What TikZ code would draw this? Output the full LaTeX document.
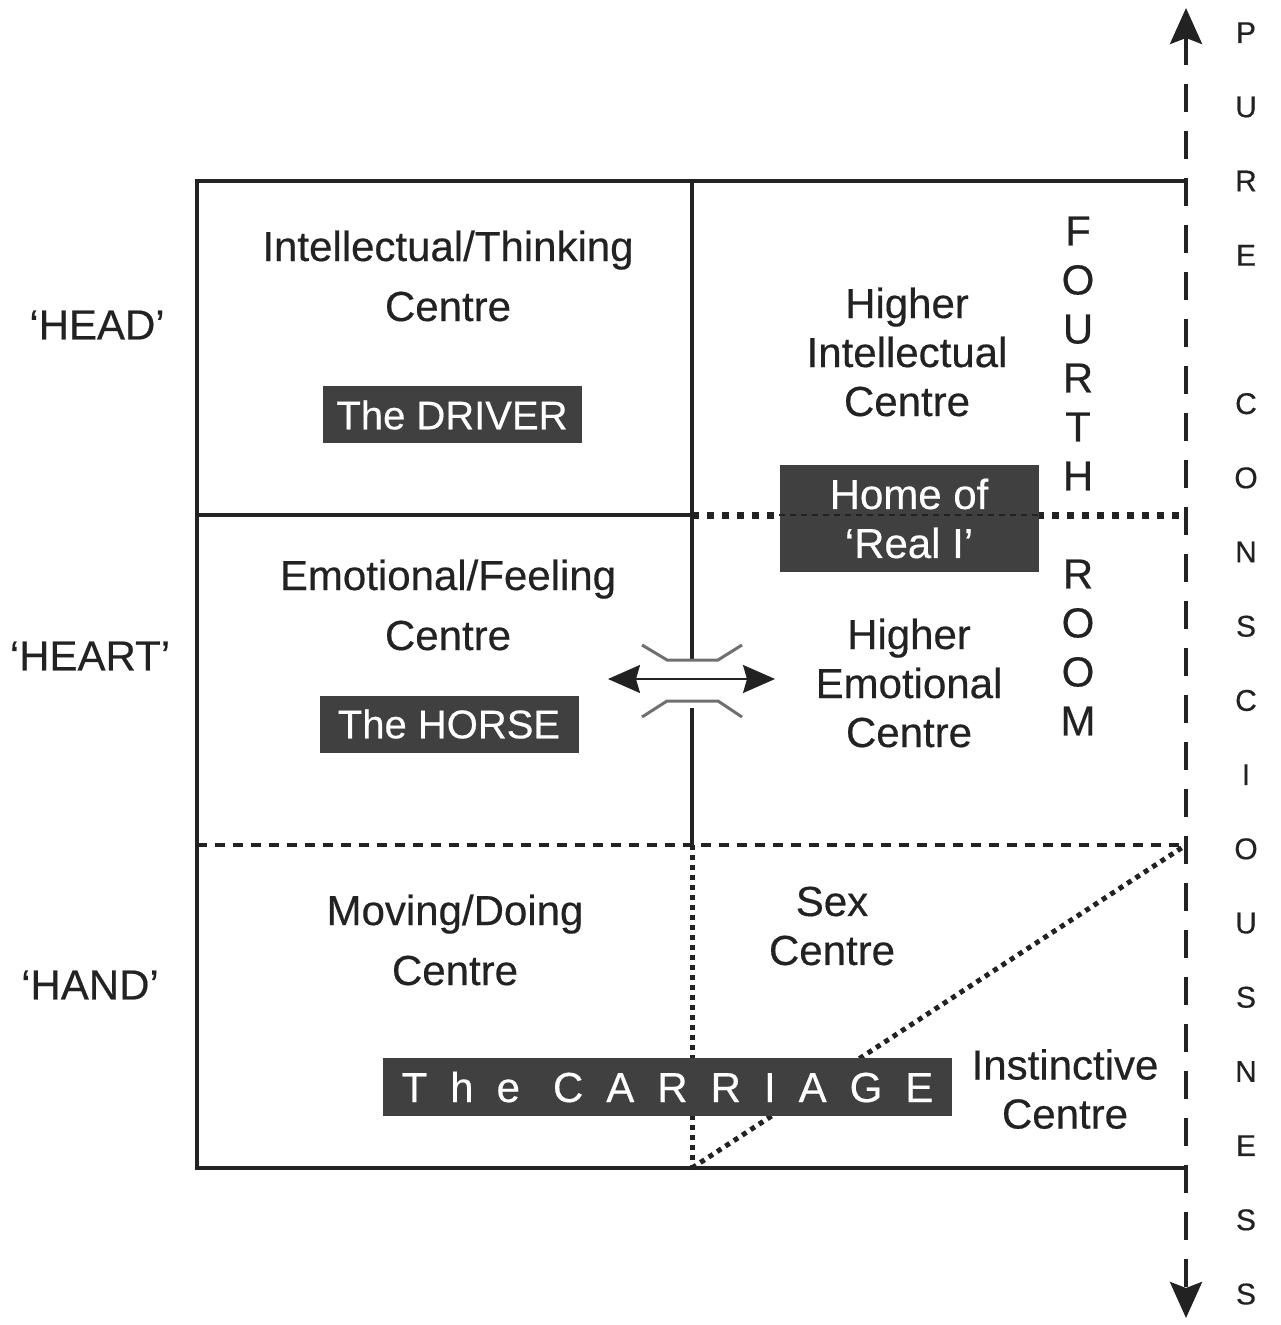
\documentclass[tikz,border=0pt]{standalone}
\usepackage{fontspec}
\setmainfont{Liberation Sans}[FakeBold=0.4]
\usetikzlibrary{arrows.meta}
\definecolor{ink}{HTML}{222222}
\definecolor{boxfill}{HTML}{404040}
\definecolor{bracketgrey}{HTML}{707070}
\newcommand{\lsp}{\hspace{11.5pt}}

\begin{document}
\begin{tikzpicture}[x=0.5pt,y=-0.5pt,
    every node/.style={inner sep=0pt,text=ink},
    centre/.style={align=center,font=\fontsize{21}{30}\selectfont},
    higher/.style={align=center,font=\fontsize{21}{24.5}\selectfont},
    sidelabel/.style={font=\fontsize{21}{25}\selectfont},
    namebox/.style={fill=boxfill,text=white,minimum width=129.5pt,minimum height=28.5pt,font=\fontsize{20}{24.5}\selectfont},
    wall/.style={draw=ink,line width=2pt},
    floorline/.style={draw=ink,line width=2pt,dash pattern=on 5pt off 4pt},
    roomline/.style={draw=ink,line width=3.5pt,dash pattern=on 3.5pt off 4pt},
    lowline/.style={draw=ink,line width=2.5pt,dash pattern=on 2.5pt off 2.5pt},
    consc/.style={draw=ink,line width=2pt,dash pattern=on 14pt off 9.5pt,
      {Stealth[length=18pt,width=16pt,inset=3pt]}-{Stealth[length=18pt,width=16pt,inset=3pt]}},
    link/.style={draw=ink,line width=1pt,
      {Stealth[length=16pt,width=14pt,inset=2pt]}-{Stealth[length=16pt,width=14pt,inset=2pt]}},
    bracket/.style={draw=bracketgrey,line width=1.5pt}]
  \useasboundingbox (0,0) rectangle (1280,1325);

  % grid of the rooms
  \coordinate (tl) at (197,181);
  \coordinate (tm) at (692,181);
  \coordinate (tr) at (1186,181);
  \coordinate (ml) at (197,515);
  \coordinate (mm) at (692,515);
  \coordinate (mr) at (1186,515);
  \coordinate (ll) at (197,845);
  \coordinate (lm) at (692,845);
  \coordinate (lr) at (1186,845);
  \coordinate (bl) at (197,1168);
  \coordinate (bm) at (692,1168);
  \coordinate (br) at (1186,1168);
  \coordinate (gaptop) at (692,660);
  \coordinate (gapbot) at (692,708);
  \coordinate (ctop) at (1186,8);
  \coordinate (cbot) at (1186,1318);
  \coordinate (larr) at (608,679);
  \coordinate (rarr) at (775,679);

  \draw[wall] (tr) -- (tl) -- (bl) -- (br);
  \draw[wall] (tm) -- (gaptop);
  \draw[wall] (gapbot) -- (lm);
  \draw[wall] (ml) -- (mm);
  \draw[roomline] (mm) -- (mr);
  \draw[floorline] (ll) -- (lr);
  \draw[lowline] (lm) -- (bm);
  \draw[lowline] (bm) -- (lr);
  \draw[consc] (ctop) -- (cbot);

  % the gate between the emotional centres
  \draw[bracket] (642,645) -- (667,660) -- (718,660) -- (742,645);
  \draw[bracket] (642,717) -- (667,701) -- (718,701) -- (742,717);
  \draw[link] (larr) -- (rarr);

  % centres
  \node[centre] (think) at (448,276) {Intellectual/Thinking\\Centre};
  \node[namebox] (driver) at (452,415) {The DRIVER};
  \node[centre] (feel) at (448,605) {Emotional/Feeling\\Centre};
  \node[namebox] (horse) at (449,724) {The HORSE};
  \node[centre] (move) at (455,940) {Moving/Doing\\Centre};
  \node[higher] (hint) at (907,352) {Higher\\Intellectual\\Centre};
  \node[higher] (hemo) at (909,683) {Higher\\Emotional\\Centre};
  \node[higher] (sex) at (832,926) {Sex\\Centre};
  \node[higher] (inst) at (1065,1089) {Instinctive\\Centre};

  \node[namebox,minimum height=53.5pt,align=center,font=\fontsize{21}{24.5}\selectfont] (home) at (909,518.5) {Home of\\‘Real I’};
  \draw[ink,line width=0.8pt,dash pattern=on 3pt off 2.5pt] (home.west |- mm) -- (home.east |- mm);

  \node[namebox,minimum width=284.5pt,minimum height=29pt,font=\fontsize{21}{25}\selectfont] (carriage) at (667.5,1087)
    {T\lsp h\lsp e\lsp\hspace{5pt}C\lsp A\lsp R\lsp R\lsp I\lsp A\lsp G\lsp E};

  \node[higher] (fourth) at (1078,476) {F\\O\\U\\R\\T\\H\\[24.5pt]R\\O\\O\\M};
  \node[align=center,font=\fontsize{15}{37.1}\selectfont] (pure) at (1246,663.5)
    {P\\U\\R\\E\\[37.1pt]C\\O\\N\\S\\C\\I\\O\\U\\S\\N\\E\\S\\S};

  % sides of the person
  \node[sidelabel] (head) at (97,325) {‘HEAD’};
  \node[sidelabel] (heart) at (90,656) {‘HEART’};
  \node[sidelabel] (hand) at (90,985) {‘HAND’};
\end{tikzpicture}
\end{document}
